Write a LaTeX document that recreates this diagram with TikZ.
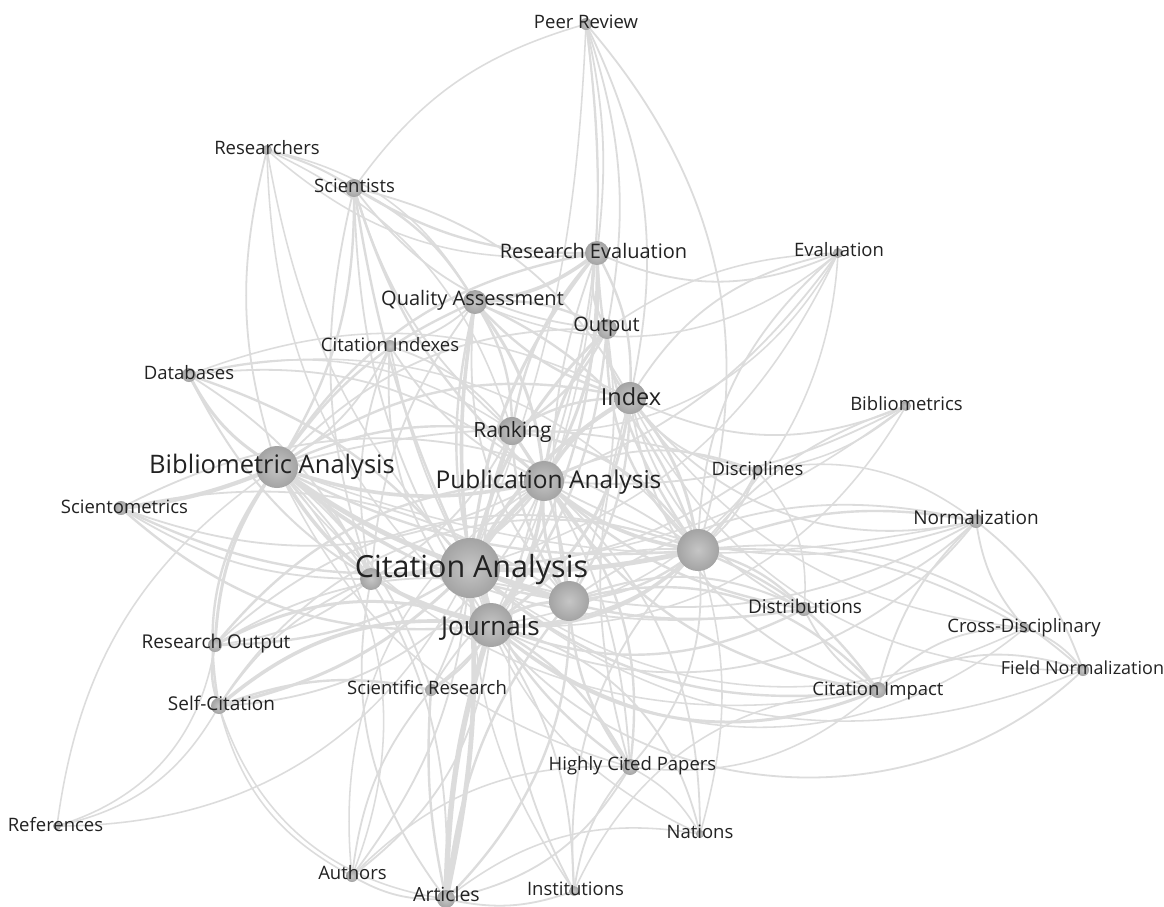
\documentclass[tikz,border=0pt]{standalone}
\usepackage{fontspec}
\setmainfont{Open Sans}
\usetikzlibrary{backgrounds}
\definecolor{edgecol}{HTML}{DCDCDC}
\definecolor{labcol}{HTML}{222222}
\tikzset{
  ballnode/.style={circle, inner sep=0pt, draw=none, inner color=gray!45, outer color=gray!72, minimum size=#1},
  edge/.style={draw=edgecol, line cap=round},
  lab/.style={text=labcol, inner sep=0pt, anchor=base}
}
\newcommand\ballat[4]{\node[ballnode=#4*2pt] (#1) at (#2,#3) {};}
\newcommand\labat[5]{\node[lab, font=\fontsize{#4}{#4}\selectfont] (#1-l) at (#2,{#3+0.357*#4}) {#5};}
\begin{document}
\begin{tikzpicture}[x=1pt,y=-1pt]
\useasboundingbox (0,0) rectangle (1164,906);
% balls
\ballat{peer}{586}{24}{6}
\ballat{resr}{267}{150}{5}
\ballat{sci}{354}{188}{9}
\ballat{reval}{597}{253}{12}
\ballat{eval}{838}{253}{5}
\ballat{qa}{475}{302}{12}
\ballat{out}{607}{329}{10}
\ballat{cidx}{390}{346}{6}
\ballat{db}{189}{375}{7}
\ballat{idx}{630}{398}{16}
\ballat{bmx}{906}{406}{5}
\ballat{rk}{512}{431}{14}
\ballat{ba}{277}{467}{21}
\ballat{pa}{544}{481}{20}
\ballat{disc}{757}{471}{5}
\ballat{smx}{121}{508}{7}
\ballat{norm}{976}{521}{7}
\ballat{uone}{698}{550}{21}
\ballat{ca}{470}{568}{30}
\ballat{uthree}{371}{579}{11}
\ballat{utwo}{569}{601}{20}
\ballat{jo}{491}{625}{22}
\ballat{dist}{804}{609}{7}
\ballat{cross}{1025}{628}{5}
\ballat{ro}{215}{645}{7}
\ballat{fnorm}{1083}{670}{6}
\ballat{sr}{431}{690}{6}
\ballat{cimp}{878}{690}{8}
\ballat{selfc}{219}{706}{8}
\ballat{hcp}{630}{767}{8}
\ballat{refs}{57}{826}{4}
\ballat{nat}{700}{834}{4}
\ballat{auth}{352}{876}{6}
\ballat{art}{446}{899}{9}
\ballat{inst}{574}{891}{5}
% edges
\begin{pgfonlayer}{background}
\fill[white] (0,0) rectangle (1164,906);
\foreach \p/\q/\w/\g in {
 peer/sci/1.3/-12, peer/reval/1.5/6, peer/out/1.5/9, peer/idx/1.5/12, peer/uone/1.5/18, peer/pa/1.5/8, peer/ca/1.3/6, peer/jo/1.3/10,
 ca/resr/1.3/10, ca/sci/2/5, ca/reval/2.5/10, ca/eval/1.3/-15, ca/qa/3/5, ca/out/2.5/10, ca/cidx/1.5/5, ca/db/2/-10, ca/idx/3/10, ca/bmx/1.3/-10, ca/rk/2.5/0, ca/ba/4/5, ca/pa/4/5, ca/disc/1.5/-10, ca/smx/2/10, ca/norm/1.5/-15, ca/uone/4/-5, ca/uthree/2.5/0, ca/utwo/3/0, ca/jo/4/10, ca/dist/2/-10, ca/cross/1.3/-20, ca/ro/2/10, ca/fnorm/1.3/-20, ca/sr/1.5/5, ca/cimp/2/-15, ca/selfc/2.5/10, ca/hcp/2/-10, ca/refs/1.3/20, ca/nat/1.3/-15, ca/auth/1.5/10, ca/art/4/5, ca/inst/1.3/-10,
 jo/resr/1.3/15, jo/sci/1.5/10, jo/reval/2/-10, jo/eval/1.3/-25, jo/qa/2/10, jo/out/2/-10, jo/cidx/1.5/15, jo/db/1.7/15, jo/idx/2.5/-15, jo/bmx/1.3/-20, jo/rk/2/10, jo/ba/3/15, jo/pa/3/-10, jo/disc/1.5/-20, jo/smx/2/15, jo/norm/1.5/-25, jo/uone/3/-15, jo/utwo/2.5/10, jo/dist/2/-15, jo/cross/1.3/-25, jo/ro/2.5/-15, jo/fnorm/1.5/-30, jo/sr/2/10, jo/cimp/2.5/-20, jo/selfc/3/-15, jo/hcp/2/10, jo/nat/1.5/20, jo/auth/1.5/15, jo/art/4.5/-5, jo/inst/1.5/10,
 ba/resr/1.5/10, ba/sci/2/-10, ba/reval/2/15, ba/qa/2/10, ba/out/1.5/15, ba/cidx/1.5/-10, ba/db/2.5/10, ba/idx/2/15, ba/rk/2/10, ba/pa/3/-10, ba/smx/3.5/5, ba/uone/2/-10, ba/utwo/2/-10, ba/uthree/2/10, ba/ro/2.5/-10, ba/sr/1.5/10, ba/selfc/2/-15, ba/refs/1.3/-15, ba/auth/1.3/20, ba/art/1.5/15, ba/hcp/1.3/-15, ba/dist/1.5/-15, ba/disc/1.5/10, ba/norm/1.3/-10, ba/cimp/1.3/-20,
 pa/sci/2/10, pa/reval/2.5/-10, pa/eval/1.5/-10, pa/qa/2.5/-10, pa/out/2.5/10, pa/cidx/1.5/10, pa/db/1.5/-15, pa/idx/3/10, pa/bmx/1.5/-10, pa/rk/2.5/0, pa/disc/1.5/15, pa/smx/1.5/15, pa/norm/1.5/-15, pa/uone/3/-10, pa/utwo/2.5/-10, pa/uthree/2/15, pa/dist/2/-10, pa/ro/2/-15, pa/sr/1.5/15, pa/cimp/2/-15, pa/selfc/1.5/20, pa/hcp/2/15, pa/nat/1.5/15, pa/art/2/20, pa/inst/1.5/-15, pa/auth/1.3/-20,
 uone/reval/2/10, uone/eval/1.5/15, uone/qa/2/-15, uone/out/2/15, uone/idx/2.5/-10, uone/bmx/1.5/10, uone/rk/2/-15, uone/disc/1.5/-10, uone/norm/2/10, uone/dist/2/10, uone/cross/1.5/10, uone/fnorm/1.5/15, uone/cimp/2/10, uone/hcp/1.5/15, uone/inst/1.5/-15, uone/nat/1.3/10, uone/sr/1.5/-20, uone/ro/1.5/-20, uone/db/1.3/-20, uone/smx/1.5/-20, uone/utwo/2/10, uone/selfc/1.5/-25,
 utwo/reval/1.5/10, utwo/qa/1.5/15, utwo/idx/2/-10, utwo/rk/2/10, utwo/dist/1.7/15, utwo/cimp/2/20, utwo/hcp/2/-10, utwo/art/2/-10, utwo/ro/1.5/-15, utwo/smx/1.5/-15, utwo/norm/1.5/15, utwo/out/1.5/-10,
 uthree/qa/1.5/10, uthree/rk/1.5/-10, uthree/ro/1.5/10, uthree/selfc/1.5/-10, uthree/smx/1.5/10, uthree/db/1.5/-10, uthree/sci/1.5/10, uthree/cidx/1.5/10, uthree/art/1.5/-15,
 idx/reval/2/-10, idx/eval/1.5/15, idx/out/2/15, idx/qa/2/10, idx/rk/2/-10, idx/bmx/1.5/-15, idx/sci/1.5/-15, idx/disc/1.5/-15, idx/norm/1.5/-20, idx/cimp/1.5/-20, idx/dist/1.5/-15, idx/db/1.3/-15, idx/hcp/1.5/-10, idx/fnorm/1.3/-20, idx/cross/1.3/-15,
 rk/reval/2/10, rk/qa/2/-10, rk/out/2/-10, rk/sci/1.5/10, rk/cidx/1.5/-10, rk/hcp/1.5/10, rk/eval/1.3/-20, rk/db/1.3/-15,
 qa/reval/3/-10, qa/out/2/10, qa/sci/2/-10, qa/resr/1.3/-15, qa/cidx/1.5/10, qa/eval/1.3/-20,
 reval/sci/2/10, reval/out/2/-15, reval/eval/1.5/-15, reval/resr/1.3/15,
 out/sci/1.5/15, out/eval/1.3/10,
 sci/resr/1.7/-5, resr/rk/1.3/15,
 refs/ro/1.3/-20, refs/selfc/1.3/-15,
 selfc/ro/2/10, selfc/art/1.3/-20, selfc/auth/1.3/-15, selfc/sr/2/10,
 auth/art/1.5/-10, auth/hcp/1.3/15, auth/sr/1.5/10,
 art/sr/2/5, art/hcp/1.5/-15, art/inst/1.5/-10, art/nat/1.3/15,
 hcp/inst/1.5/-10, hcp/nat/1.3/10, hcp/cimp/1.3/-15,
 cimp/inst/1.3/-20, cimp/norm/1.5/10, cimp/fnorm/1.5/15, cimp/cross/1.5/15, cimp/dist/1.5/10,
 norm/fnorm/1.5/10, norm/cross/1.5/-10, norm/dist/1.5/10, cross/fnorm/1.5/10,
 disc/dist/1.3/15, disc/norm/1.3/15, disc/bmx/1.3/-10}
 {\draw[edge, line width=1.2*\w pt] (\p.center) to[bend left={1.6*\g}] (\q.center);}
\end{pgfonlayer}
% labels
\labat{peer}{586}{22}{18.5}{Peer Review}
\labat{resr}{267}{148}{18.5}{Researchers}
\labat{sci}{354.5}{186}{18.5}{Scientists}
\labat{reval}{593.5}{251}{20}{Research Evaluation}
\labat{eval}{839}{250}{18.5}{Evaluation}
\labat{qa}{472.5}{298}{20}{Quality Assessment}
\labat{out}{606.5}{324}{20}{Output}
\labat{cidx}{390}{345}{18.5}{Citation Indexes}
\labat{db}{189}{373}{18.5}{Databases}
\labat{idx}{631}{397}{23.5}{Index}
\labat{bmx}{906.5}{404}{18.5}{Bibliometrics}
\labat{rk}{512.5}{430}{21}{Ranking}
\labat{ba}{272}{464}{25.5}{Bibliometric Analysis}
\labat{pa}{548.5}{480}{24.5}{Publication Analysis}
\labat{disc}{757.5}{469}{18.5}{Disciplines}
\labat{smx}{124.5}{507}{18.5}{Scientometrics}
\labat{norm}{976}{518}{19}{Normalization}
\labat{ca}{471.5}{567}{30.5}{Citation Analysis}
\labat{jo}{490.5}{626}{26}{Journals}
\labat{dist}{805}{607}{19}{Distributions}
\labat{cross}{1024}{626}{18.5}{Cross-Disciplinary}
\labat{ro}{216}{642}{19}{Research Output}
\labat{fnorm}{1082.5}{668}{18}{Field Normalization}
\labat{sr}{427}{688}{18.5}{Scientific Research}
\labat{cimp}{878}{689}{18.5}{Citation Impact}
\labat{selfc}{221.5}{704}{19}{Self-Citation}
\labat{hcp}{632.5}{764}{18.5}{Highly Cited Papers}
\labat{refs}{55.5}{825}{18.5}{References}
\labat{nat}{700}{832}{18.5}{Nations}
\labat{auth}{352.5}{873}{18.5}{Authors}
\labat{art}{446.5}{895}{19.5}{Articles}
\labat{inst}{575.5}{889}{18.5}{Institutions}
\end{tikzpicture}
\end{document}
